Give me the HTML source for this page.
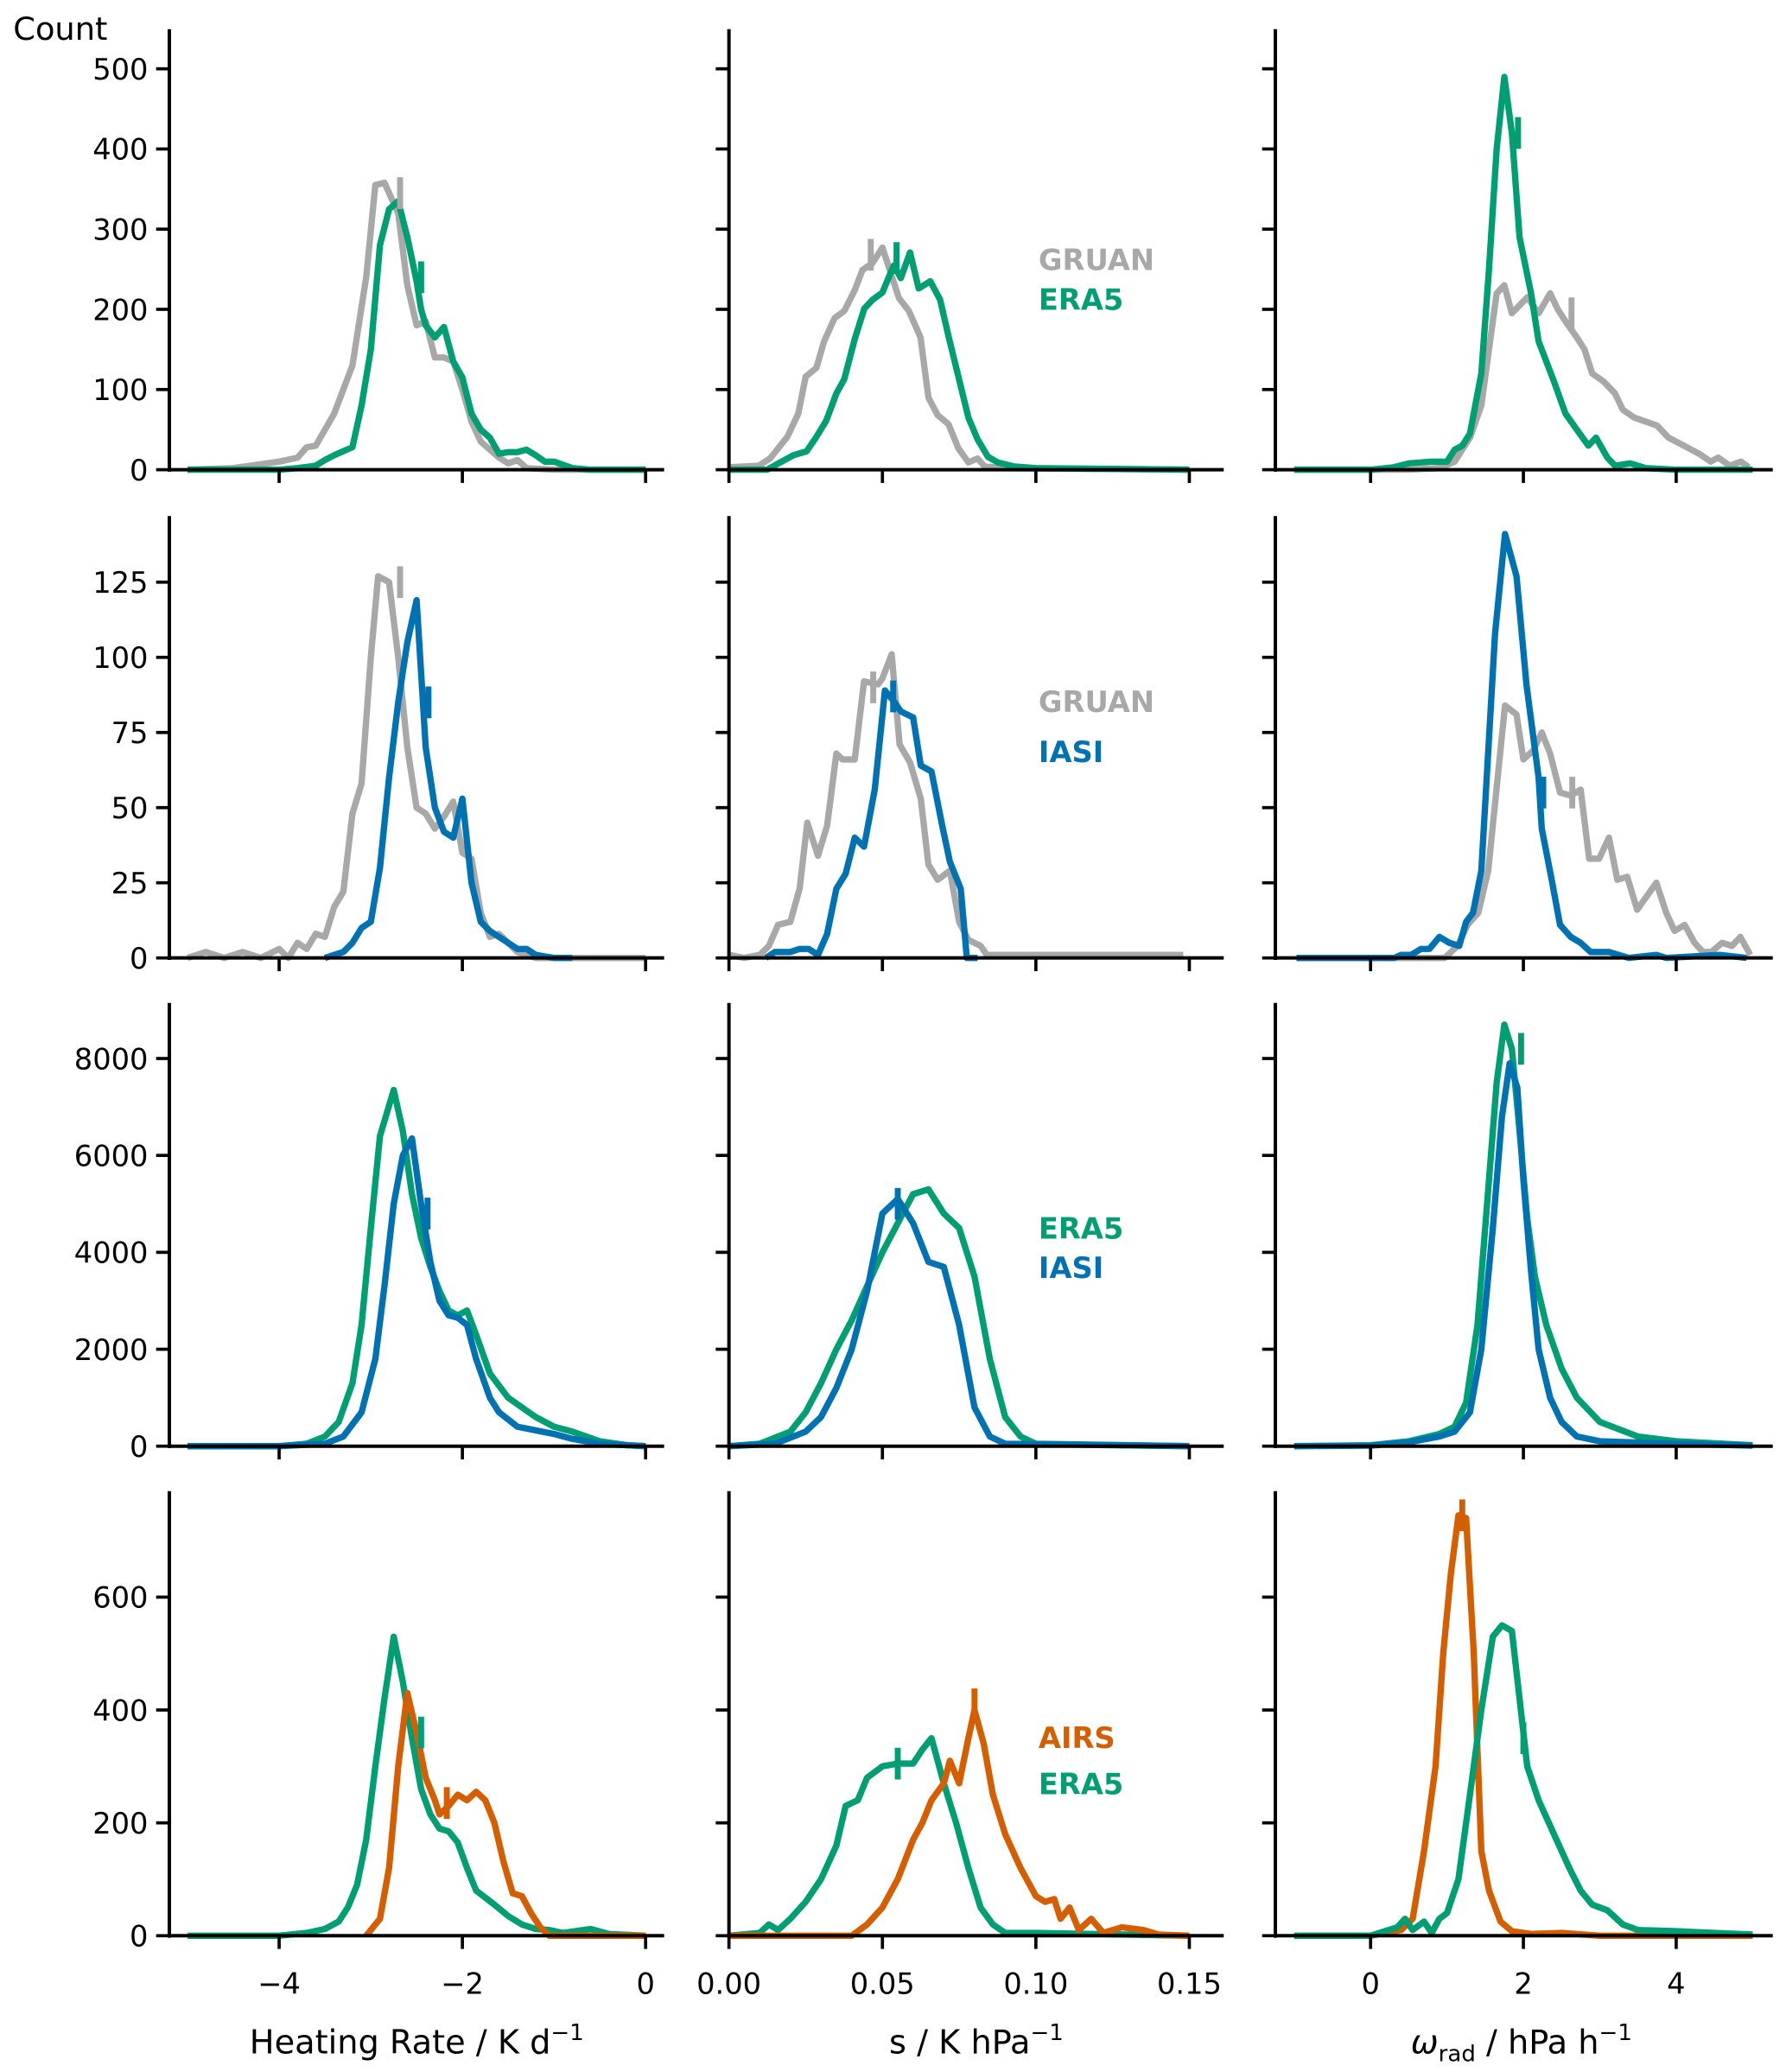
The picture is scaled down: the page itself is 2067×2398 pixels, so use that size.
<!DOCTYPE html>
<html><head><meta charset="utf-8"><style>
html,body{margin:0;padding:0;background:#fff;}
svg{display:block;font-family:"DejaVu Sans","Liberation Sans",sans-serif;}
</style></head><body>
<svg id="chart" width="2067" height="2398" viewBox="0 0 1350 1566" preserveAspectRatio="none" xmlns="http://www.w3.org/2000/svg">
<text x="10" y="30" font-size="24">Count</text>
<text x="315" y="1552" font-size="25" text-anchor="middle">Heating Rate / K d<tspan dy="-10" font-size="17">−1</tspan></text>
<text x="738" y="1552" font-size="25" text-anchor="middle">s / K hPa<tspan dy="-10" font-size="17">−1</tspan></text>
<text x="1150" y="1552" font-size="25" text-anchor="middle"><tspan font-style="italic">ω</tspan><tspan dy="6" font-size="17">rad</tspan><tspan dy="-6"> / hPa h</tspan><tspan dy="-10" font-size="17">−1</tspan></text>
</svg>
<script>
// ---------- data ----------
const hrX_r1_gruan=[-5,-4.5,-4,-3.8,-3.7,-3.6,-3.4,-3.2,-3.05,-2.95,-2.85,-2.7,-2.6,-2.5,-2.4,-2.3,-2.2,-2.1,-2.0,-1.9,-1.8,-1.6,-1.5,-1.4,-1.3,-1.0,0];
const hrY_r1_gruan=[0,2,10,15,28,30,70,130,240,355,358,320,230,180,185,140,140,135,100,60,35,15,8,12,2,0,0];
const hrX_r1_era5=[-5,-4,-3.8,-3.6,-3.5,-3.4,-3.2,-3.1,-3.0,-2.9,-2.8,-2.7,-2.6,-2.5,-2.45,-2.4,-2.3,-2.2,-2.1,-2.0,-1.9,-1.8,-1.7,-1.6,-1.5,-1.4,-1.3,-1.2,-1.1,-1.0,-0.8,-0.6,0];
const hrY_r1_era5=[0,0,2,5,12,18,28,80,150,280,325,335,290,235,200,180,165,178,135,115,70,50,40,20,22,22,25,18,10,10,2,0,0];
const sX_r1_gruan=[0,0.0097,0.0134,0.019,0.0226,0.025,0.0285,0.031,0.0344,0.0376,0.041,0.0435,0.0468,0.05,0.0554,0.0586,0.0624,0.065,0.068,0.0715,0.0747,0.078,0.081,0.0833,0.089,0.15];
const sY_r1_gruan=[3,5,14,41,70,116,127,160,189,198,224,249,258,277,214,198,165,90,68,57,27,9,14,4,2,0];
const sX_r1_era5=[0,0.0124,0.0167,0.021,0.0253,0.0285,0.0317,0.035,0.0376,0.041,0.0441,0.0468,0.05,0.0527,0.0538,0.056,0.059,0.0618,0.0656,0.0688,0.0715,0.0747,0.078,0.081,0.0844,0.0876,0.093,0.1,0.15];
const sY_r1_era5=[0,0,9,18,23,41,61,95,113,163,201,212,221,246,255,239,271,226,235,212,167,117,65,38,16,9,4,2,0];
const wX_r1_era5=[-1,0,0.3,0.5,0.8,1.0,1.1,1.2,1.3,1.45,1.55,1.65,1.75,1.85,1.95,2.1,2.2,2.4,2.55,2.7,2.85,2.95,3.1,3.2,3.4,3.6,4,5];
const wY_r1_era5=[0,0,3,8,10,10,25,30,45,120,250,400,490,420,290,220,160,110,70,50,30,40,15,5,8,2,0,0];
const wX_r1_gruan=[-1,0.5,0.9,1.1,1.3,1.45,1.55,1.65,1.75,1.85,1.95,2.05,2.2,2.35,2.45,2.55,2.7,2.8,2.9,3.05,3.2,3.3,3.45,3.6,3.75,3.9,4.1,4.3,4.45,4.55,4.7,4.85,4.95];
const wY_r1_gruan=[0,0,2,10,40,80,150,220,230,195,205,215,195,220,200,185,165,150,120,110,95,75,65,60,55,40,30,20,10,15,5,10,3];

const hrX_r2_gruan=[-5,-4.8,-4.6,-4.4,-4.2,-4,-3.9,-3.8,-3.7,-3.6,-3.5,-3.4,-3.3,-3.2,-3.1,-3.0,-2.92,-2.8,-2.7,-2.6,-2.5,-2.4,-2.3,-2.2,-2.1,-2.0,-1.9,-1.8,-1.7,-1.6,-1.5,-1.4,-1.2,0];
const hrY_r2_gruan=[0,2,0,2,0,3,0,5,3,8,7,17,22,48,58,100,127,125,100,70,50,48,43,47,52,35,33,15,7,8,5,2,0,0];
const hrX_r2_iasi=[-3.5,-3.3,-3.2,-3.1,-3.0,-2.9,-2.8,-2.7,-2.6,-2.5,-2.4,-2.3,-2.2,-2.1,-2.0,-1.9,-1.8,-1.7,-1.6,-1.5,-1.4,-1.3,-1.2,-1.0,-0.8];
const hrY_r2_iasi=[0,2,5,10,12,30,60,85,105,119,70,50,42,40,53,25,12,9,7,5,3,3,1,0,0];
const sX_r2_gruan=[0,0.005,0.01,0.013,0.016,0.02,0.023,0.0255,0.029,0.032,0.035,0.037,0.041,0.044,0.0486,0.05,0.053,0.0556,0.059,0.0625,0.065,0.068,0.072,0.075,0.078,0.082,0.084,0.09,0.148];
const sY_r2_gruan=[1,0,1,4,11,12,23,45,34,44,68,66,66,92,91,93,101,71,65,53,31,26,29,12,6,4,1,1,1];
const sX_r2_iasi=[0.012,0.015,0.02,0.023,0.026,0.029,0.032,0.035,0.038,0.041,0.044,0.0475,0.0508,0.054,0.056,0.06,0.0625,0.066,0.0695,0.072,0.0755,0.0775,0.081];
const sY_r2_iasi=[0,2,2,3,3,1,8,23,28,40,37,56,89,85,82,80,64,62,44,32,23,0,0];
const wX_r2_iasi=[-0.97,0.31,0.4,0.53,0.66,0.77,0.9,1.03,1.16,1.25,1.34,1.45,1.63,1.76,1.91,2.04,2.2,2.24,2.37,2.48,2.62,2.75,2.88,3.12,3.38,3.74,3.87,4.57,4.92];
const wY_r2_iasi=[0,0,1,1,3,3,7,5,4,12,15,29,108,141,127,91,60,43,26,11,7,5,2,2,0,1,0,1,0];
const wX_r2_gruan=[-0.97,0.97,1.14,1.27,1.41,1.54,1.76,1.91,2.0,2.13,2.24,2.35,2.48,2.62,2.75,2.86,2.99,3.12,3.23,3.36,3.49,3.74,3.87,3.98,4.11,4.24,4.35,4.46,4.6,4.73,4.84,4.97];
const wY_r2_gruan=[0,0,4,11,15,29,84,81,66,69,75,68,55,54,56,33,33,40,26,27,16,25,15,9,11,5,2,2,5,4,7,1];

const hrX_r3_era5=[-5,-4,-3.7,-3.5,-3.35,-3.2,-3.1,-3.0,-2.9,-2.75,-2.65,-2.55,-2.45,-2.35,-2.25,-2.15,-2.05,-1.95,-1.85,-1.7,-1.5,-1.2,-1.0,-0.8,-0.5,-0.2,0];
const hrY_r3_era5=[0,0,50,200,500,1300,2500,4500,6400,7350,6500,5200,4300,3700,3200,2800,2700,2800,2300,1500,1000,600,400,300,100,20,0];
const hrX_r3_iasi=[-5,-4,-3.5,-3.3,-3.1,-2.95,-2.85,-2.75,-2.65,-2.55,-2.45,-2.35,-2.25,-2.15,-2.05,-1.95,-1.85,-1.7,-1.6,-1.4,-1.0,-0.8,-0.5,0];
const hrY_r3_iasi=[0,0,50,200,700,1800,3300,5000,6000,6350,5000,3800,3000,2700,2650,2500,1800,1000,700,400,250,150,50,0];
const sX_r3_era5=[0,0.01,0.02,0.025,0.03,0.035,0.04,0.045,0.05,0.055,0.06,0.065,0.07,0.075,0.08,0.085,0.09,0.095,0.1,0.15];
const sY_r3_era5=[0,50,300,700,1300,2000,2600,3300,4000,4600,5200,5300,4800,4500,3500,1800,600,200,50,0];
const sX_r3_iasi=[0,0.015,0.025,0.03,0.035,0.04,0.045,0.05,0.055,0.06,0.065,0.07,0.075,0.08,0.085,0.09,0.15];
const sY_r3_iasi=[0,50,300,600,1200,2000,3200,4800,5100,4600,3800,3700,2500,800,200,50,0];
const wX_r3_era5=[-1,0,0.5,0.9,1.1,1.25,1.4,1.55,1.65,1.75,1.85,1.95,2.05,2.15,2.3,2.5,2.7,3.0,3.5,4,5];
const wY_r3_era5=[0,20,100,250,400,900,2500,5500,7500,8700,8200,6500,4700,3500,2500,1600,1000,500,200,100,20];
const wX_r3_iasi=[-1,0,0.5,0.9,1.1,1.3,1.45,1.6,1.72,1.82,1.92,2.0,2.1,2.2,2.35,2.5,2.7,3,4,5];
const wY_r3_iasi=[0,10,80,200,300,700,2000,4500,6800,7900,7400,5500,3600,2000,1000,500,200,100,50,10];

const hrX_r4_era5=[-5,-4,-3.7,-3.5,-3.35,-3.25,-3.15,-3.05,-2.95,-2.85,-2.75,-2.65,-2.55,-2.45,-2.35,-2.25,-2.15,-2.05,-1.95,-1.85,-1.65,-1.5,-1.35,-1.2,-1.05,-0.9,-0.6,-0.4,0];
const hrY_r4_era5=[0,0,5,12,25,50,90,170,300,420,530,450,350,260,215,190,185,165,120,80,55,35,20,12,10,5,12,3,0];
const hrX_r4_airs=[-3.05,-2.9,-2.8,-2.7,-2.6,-2.5,-2.4,-2.3,-2.25,-2.15,-2.05,-1.95,-1.85,-1.75,-1.65,-1.55,-1.45,-1.35,-1.25,-1.15,-1.05,0];
const hrY_r4_airs=[0,30,120,300,430,360,280,240,215,230,250,240,255,240,200,130,75,70,40,15,0,0];
const sX_r4_era5=[0,0.01,0.013,0.016,0.02,0.025,0.03,0.035,0.038,0.042,0.045,0.05,0.055,0.06,0.063,0.066,0.07,0.074,0.078,0.082,0.086,0.09,0.1,0.15];
const sY_r4_era5=[0,5,20,10,30,60,100,160,230,240,280,300,305,305,330,350,270,200,120,50,20,5,5,0];
const sX_r4_airs=[0,0.04,0.045,0.05,0.055,0.06,0.063,0.066,0.07,0.072,0.075,0.078,0.08,0.083,0.086,0.09,0.095,0.098,0.1,0.103,0.106,0.108,0.111,0.114,0.118,0.122,0.128,0.135,0.14,0.15];
const sY_r4_airs=[0,0,20,50,100,170,200,240,270,310,270,350,400,340,250,180,120,90,70,60,65,30,50,10,30,5,15,10,2,0];
const wX_r4_airs=[-1,0,0.4,0.55,0.7,0.85,0.95,1.05,1.15,1.25,1.35,1.45,1.55,1.7,1.85,2.1,2.5,3,5];
const wY_r4_airs=[0,0,10,30,150,300,500,640,745,740,500,150,80,25,8,3,5,0,0];
const wX_r4_era5=[-1,0,0.35,0.45,0.55,0.7,0.8,0.9,1.0,1.15,1.3,1.45,1.6,1.72,1.85,1.95,2.05,2.2,2.4,2.6,2.75,2.9,3.1,3.3,3.5,4,4.5,5];
const wY_r4_era5=[0,0,15,30,10,25,5,30,40,100,250,400,530,550,540,420,300,240,180,120,80,55,45,20,10,8,5,2];

// medians: [x, y-count, colour, column]
const medians_r1=[[-2.68,345,'gray',0],[-2.45,240,'green',0],[0.0462,268,'gray',1],[0.0546,264,'green',1],[1.93,420,'green',2],[2.63,195,'gray',2]];
const medians_r2=[[-2.68,125,'gray',0],[-2.37,85,'blue',0],[0.047,90,'gray',1],[0.0535,87,'blue',1],[2.26,55,'blue',2],[2.64,55,'gray',2]];
const medians_r3=[[-2.38,4800,'blue',0],[0.055,5000,'blue',1],[1.97,8200,'green',2]];
const medians_r4=[[-2.45,360,'green',0],[-2.17,235,'orange',0],[0.055,305,'green',1],[0.08,410,'orange',1],[1.2,745,'orange',2],[2.0,350,'green',2]];

const yTicks_r1=[0,100,200,300,400,500];
const yTicks_r2=[0,25,50,75,100,125];
const yTicks_r3=[0,2000,4000,6000,8000];
const yTicks_r4=[0,200,400,600];
const xTicks_c1=[-4,-2,0]; const xTickLabels_c1=['−4','−2','0'];
const xTicks_c2=[0,0.05,0.10,0.15]; const xTickLabels_c2=['0.00','0.05','0.10','0.15'];
const xTicks_c3=[0,2,4]; const xTickLabels_c3=['0','2','4'];

// ---------- layout ----------
const COL={green:'#009e73',blue:'#0072b2',orange:'#d55e00',gray:'#a8a8a8'};
const cols=[
 {ax:128,right:502,x0:488,ppu:69.25,v0:0,ticks:xTicks_c1,labels:xTickLabels_c1,name:'heating-rate'},
 {ax:551,right:925,x0:551,ppu:2320,v0:0,ticks:xTicks_c2,labels:xTickLabels_c2,name:'s'},
 {ax:964,right:1340,x0:1036,ppu:57.75,v0:0,ticks:xTicks_c3,labels:xTickLabels_c3,name:'omega'}];
const rows=[
 {top:22,zero:355,ppc:0.606,ticks:yTicks_r1,med:medians_r1,
  series:[
   [[hrX_r1_gruan,hrY_r1_gruan,'gray'],[hrX_r1_era5,hrY_r1_era5,'green']],
   [[sX_r1_gruan,sY_r1_gruan,'gray'],[sX_r1_era5,sY_r1_era5,'green']],
   [[wX_r1_gruan,wY_r1_gruan,'gray'],[wX_r1_era5,wY_r1_era5,'green']]],
  labels:[['GRUAN','gray',196],['ERA5','green',226]]},
 {top:390,zero:724,ppc:2.272,ticks:yTicks_r2,med:medians_r2,
  series:[
   [[hrX_r2_gruan,hrY_r2_gruan,'gray'],[hrX_r2_iasi,hrY_r2_iasi,'blue']],
   [[sX_r2_gruan,sY_r2_gruan,'gray'],[sX_r2_iasi,sY_r2_iasi,'blue']],
   [[wX_r2_gruan,wY_r2_gruan,'gray'],[wX_r2_iasi,wY_r2_iasi,'blue']]],
  labels:[['GRUAN','gray',530],['IASI','blue',568]]},
 {top:758,zero:1093,ppc:0.036625,ticks:yTicks_r3,med:medians_r3,
  series:[
   [[hrX_r3_era5,hrY_r3_era5,'green'],[hrX_r3_iasi,hrY_r3_iasi,'blue']],
   [[sX_r3_era5,sY_r3_era5,'green'],[sX_r3_iasi,sY_r3_iasi,'blue']],
   [[wX_r3_era5,wY_r3_era5,'green'],[wX_r3_iasi,wY_r3_iasi,'blue']]],
  labels:[['ERA5','green',928],['IASI','blue',958]]},
 {top:1127,zero:1463,ppc:0.4265,ticks:yTicks_r4,med:medians_r4,
  series:[
   [[hrX_r4_era5,hrY_r4_era5,'green'],[hrX_r4_airs,hrY_r4_airs,'orange']],
   [[sX_r4_era5,sY_r4_era5,'green'],[sX_r4_airs,sY_r4_airs,'orange']],
   [[wX_r4_airs,wY_r4_airs,'orange'],[wX_r4_era5,wY_r4_era5,'green']]],
  labels:[['AIRS','orange',1313],['ERA5','green',1348]]}];

const svg=document.getElementById('chart');
const NS='http://www.w3.org/2000/svg';
function mk(tag,attrs,parent){const e=document.createElementNS(NS,tag);for(const k in attrs)e.setAttribute(k,attrs[k]);(parent||svg).appendChild(e);return e;}
function xs(c,v){return c.x0+(v-c.v0)*c.ppu;}
function ys(r,v){return r.zero-v*r.ppc;}

rows.forEach((r,ri)=>{
 cols.forEach((c,ci)=>{
  const g=mk('g',{});
  
  
  r.series[ci].forEach(s=>{
   const pts=s[0].map((x,i)=>xs(c,x).toFixed(1)+','+ys(r,s[1][i]).toFixed(1)).join(' ');
   const pl=mk('polyline',{points:pts,fill:'none',stroke:COL[s[2]],'stroke-width':4.8,'stroke-linejoin':'round'},g);
   
   
  });
  r.med.filter(m=>m[3]===ci).forEach(m=>{
   const X=xs(c,m[0]),Y=ys(r,m[1]);
   const ln=mk('line',{x1:X,x2:X,y1:Y-12,y2:Y+12,stroke:COL[m[2]],'stroke-width':4.5},g);
   
   
  });
  const ya=mk('line',{x1:c.ax,x2:c.ax,y1:r.top,y2:r.zero+1.5,stroke:'#000','stroke-width':2.6},g);
  
  
  const xa=mk('line',{x1:c.ax-1.3,x2:c.right,y1:r.zero,y2:r.zero,stroke:'#000','stroke-width':2.6},g);
  
  
  r.ticks.forEach(t=>{
   const tk=mk('line',{x1:c.ax-10,x2:c.ax,y1:ys(r,t),y2:ys(r,t),stroke:'#000','stroke-width':2.4},g);
   
   
   if(ci===0){
    const tl=mk('text',{x:c.ax-16,y:ys(r,t)+8,'font-size':22,'text-anchor':'end'},g);
    tl.textContent=t;
    
    
   }
  });
  c.ticks.forEach((t,ti)=>{
   const X=xs(c,t);
   const tk=mk('line',{x1:X,x2:X,y1:r.zero,y2:r.zero+10,stroke:'#000','stroke-width':2.4},g);
   
   
   if(ri===3){
    const tl=mk('text',{x:X,y:r.zero+44,'font-size':22,'text-anchor':'middle'},g);
    tl.textContent=c.labels[ti];
    
    
   }
  });
 });
 r.labels.forEach(l=>{
  const t=mk('text',{x:785,y:l[2]+8,'font-size':22,'font-weight':'bold',fill:COL[l[1]]});
  t.textContent=l[0];
  
  
 });
});
</script>
</body></html>
